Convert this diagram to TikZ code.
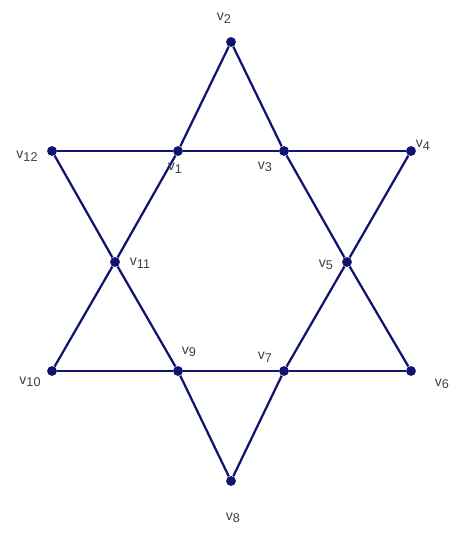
\documentclass[tikz,border=0pt]{standalone}
\usepackage{fontspec}
\setmainfont{Liberation Sans}
\usepackage{tikz}
\usetikzlibrary{positioning}
\definecolor{star-navy}{RGB}{16, 20, 112}
\newcommand{\vsub}[1]{v\raisebox{-0.35ex}{\small #1}}

\begin{document}
\begin{tikzpicture}[x=0.025cm, y=-0.025cm,
        dot/.style={circle, fill=star-navy, inner sep=0pt, minimum size=7pt},
        lbl/.style={font=\normalsize, text=black!75, inner sep=1pt},
        edge/.style={draw=star-navy, line width=1.6pt}
      ]
        \useasboundingbox (0,0) rectangle (451,535);
        % vertices of the star
        \node[dot] (v2) at (231,42) {};
        \node[dot] (v12) at (52,151) {};
        \node[dot] (v1) at (178,151) {};
        \node[dot] (v3) at (284,151) {};
        \node[dot] (v4) at (411,151) {};
        \node[dot] (v11) at (115,262) {};
        \node[dot] (v5) at (347,262) {};
        \node[dot] (v10) at (52,371) {};
        \node[dot] (v9) at (178,371) {};
        \node[dot] (v7) at (284,371) {};
        \node[dot] (v6) at (411,371) {};
        \node[dot] (v8) at (231,481) {};
        % the two triangles
        \foreach \a/\b in {v2/v1, v1/v11, v11/v10, v10/v9, v9/v7, v7/v6,
                           v6/v5, v5/v3, v3/v2, v12/v1, v1/v3, v3/v4,
                           v4/v5, v5/v7, v7/v8, v8/v9, v9/v11, v11/v12}
          \draw[edge] (\a) -- (\b);
        % labels
        \node[lbl] (l2) at (224,18) {\vsub{2}};
        \node[lbl] (l12) at (27,156) {\vsub{12}};
        \node[lbl] (l1) at (175,168) {\vsub{1}};
        \node[lbl] (l3) at (265,167) {\vsub{3}};
        \node[lbl] (l4) at (423,145) {\vsub{4}};
        \node[lbl] (l11) at (140,263) {\vsub{11}};
        \node[lbl] (l5) at (326,265) {\vsub{5}};
        \node[lbl] (l10) at (30,382) {\vsub{10}};
        \node[lbl] (l9) at (189,352) {\vsub{9}};
        \node[lbl] (l7) at (265,357) {\vsub{7}};
        \node[lbl] (l6) at (442,384) {\vsub{6}};
        \node[lbl] (l8) at (233,518) {\vsub{8}};
      \end{tikzpicture}
\end{document}
